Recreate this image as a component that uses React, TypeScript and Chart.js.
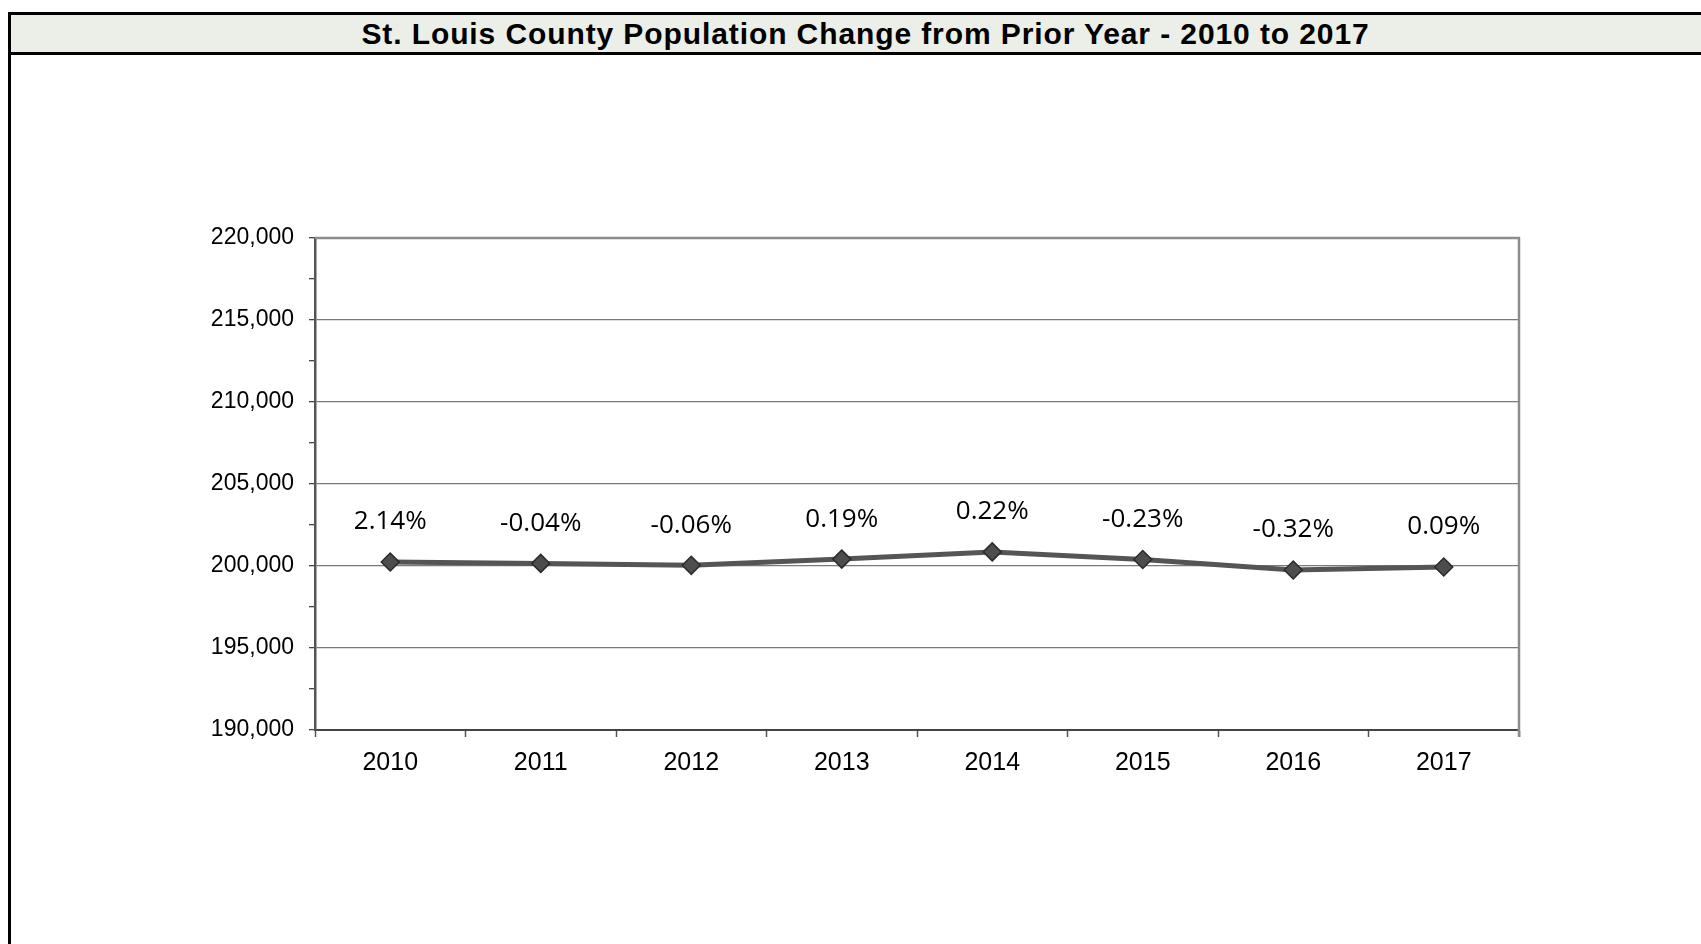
import React, { useEffect, useRef } from "react";
import { Chart, registerables } from "chart.js";

Chart.register(...registerables);

const TITLE = "St. Louis County Population Change from Prior Year - 2010 to 2017";
const years = ["2010", "2011", "2012", "2013", "2014", "2015", "2016", "2017"];
const population = [200240, 200160, 200040, 200420, 200860, 200400, 199760, 199940];
const pctChange = ["2.14%", "-0.04%", "-0.06%", "0.19%", "0.22%", "-0.23%", "-0.32%", "0.09%"];
const yMin = 190000;
const yMax = 220000;
const yMajor = 5000;
const yMinor = 2500;

const labelPlugin = {
  id: "pctLabels",
  afterDatasetsDraw(chart: any) {
    const ctx = chart.ctx;
    const meta = chart.getDatasetMeta(0);
    ctx.save();
    ctx.font = '26px "Open Sans"';
    ctx.fillStyle = "#000";
    ctx.textAlign = "center";
    ctx.textBaseline = "middle";
    meta.data.forEach((pt: any, i: number) => {
      ctx.fillText(pctChange[i], pt.x, pt.y - 40);
    });
    ctx.restore();
  },
};

const framePlugin = {
  id: "frame",
  beforeDatasetsDraw(chart: any) {
    const { ctx, chartArea } = chart;
    ctx.save();
    ctx.strokeStyle = "#8c8c8c";
    ctx.lineWidth = 2.5;
    ctx.beginPath();
    ctx.moveTo(chartArea.left, chartArea.top);
    ctx.lineTo(chartArea.right, chartArea.top);
    ctx.lineTo(chartArea.right, chartArea.bottom + 7);
    ctx.stroke();
    ctx.restore();
  },
};

export default function App() {
  const ref = useRef<HTMLCanvasElement>(null);
  useEffect(() => {
    const de = document.documentElement.style as any;
    de.overflow = "hidden";
    de.scrollbarWidth = "none";
    document.body.style.overflow = "hidden";
    if (!ref.current) return;
    const chart = new Chart(ref.current, {
      type: "line",
      data: {
        labels: years,
        datasets: [
          {
            data: population,
            borderColor: "#555555",
            borderWidth: 5,
            pointStyle: "rectRot",
            pointRadius: 9,
            pointBackgroundColor: "#4d4d4d",
            pointBorderColor: "#2b2b2b",
            pointBorderWidth: 1.5,
            tension: 0,
          },
        ],
      },
      options: {
        responsive: false,
        animation: false,
        layout: { padding: { left: 184, right: 182, top: 183, bottom: 154 } },
        plugins: { legend: { display: false }, tooltip: { enabled: false } },
        scales: {
          x: {
            type: "category",
            offset: true,
            grid: {
              offset: true,
              drawOnChartArea: false,
              drawTicks: true,
              tickLength: 7,
              tickColor: "#555",
              tickWidth: 1.5,
            },
            border: { color: "#444", width: 2 },
            ticks: {
              color: "#000",
              font: { family: '"Liberation Sans", Arial', size: 25 },
              padding: 11,
              maxRotation: 0,
            },
            afterFit(scale: any) {
              scale.height = 60;
              scale.paddingLeft = 0;
              scale.paddingRight = 0;
              scale.paddingTop = 0;
              scale.paddingBottom = 0;
            },
          },
          y: {
            type: "linear",
            min: yMin,
            max: yMax,
            ticks: {
              stepSize: yMinor,
              color: "#000",
              font: { family: '"Liberation Sans", Arial', size: 23 },
              padding: 15,
              callback: (v: any) =>
                Number(v) % yMajor === 0 ? Number(v).toLocaleString("en-US") : "",
            },
            grid: {
              color: (c: any) =>
                c.tick && c.tick.value % yMajor === 0 ? "#7a7a7a" : "rgba(0,0,0,0)",
              lineWidth: 1.3,
              tickColor: "#444",
              tickLength: 6,
              tickWidth: 1.3,
            },
            border: { color: "#555", width: 2.5 },
            afterFit(scale: any) {
              scale.width = 120;
              scale.paddingLeft = 0;
              scale.paddingRight = 0;
              scale.paddingTop = 0;
              scale.paddingBottom = 0;
            },
          },
        },
      },
      plugins: [framePlugin, labelPlugin],
    } as any);
    return () => chart.destroy();
  }, []);

  return (
    <div style={{ position: "fixed", left: 0, top: 0, width: 1701, height: 944, overflow: "hidden", background: "#fff" }}>
      <div
        style={{
          position: "absolute",
          left: 8,
          top: 12,
          width: 1712,
          height: 1000,
          borderLeft: "3px solid #000",
          borderTop: "3px solid #000",
          boxSizing: "border-box",
        }}
      >
        <div
          style={{
            height: 37,
            lineHeight: "37px",
            background: "#eceee8",
            borderBottom: "3px solid #000",
            textAlign: "center",
            fontFamily: '"Liberation Sans", Arial, sans-serif',
            fontWeight: "bold",
            fontSize: 30,
            letterSpacing: "0.9px",
            color: "#000",
            whiteSpace: "nowrap",
          }}
        >
          {TITLE}
        </div>
      </div>
      <div style={{ position: "absolute", left: 11, top: 55, width: 1690, height: 889 }}>
        <canvas ref={ref} width={1690} height={889} style={{ display: "block" }} />
      </div>
    </div>
  );
}
